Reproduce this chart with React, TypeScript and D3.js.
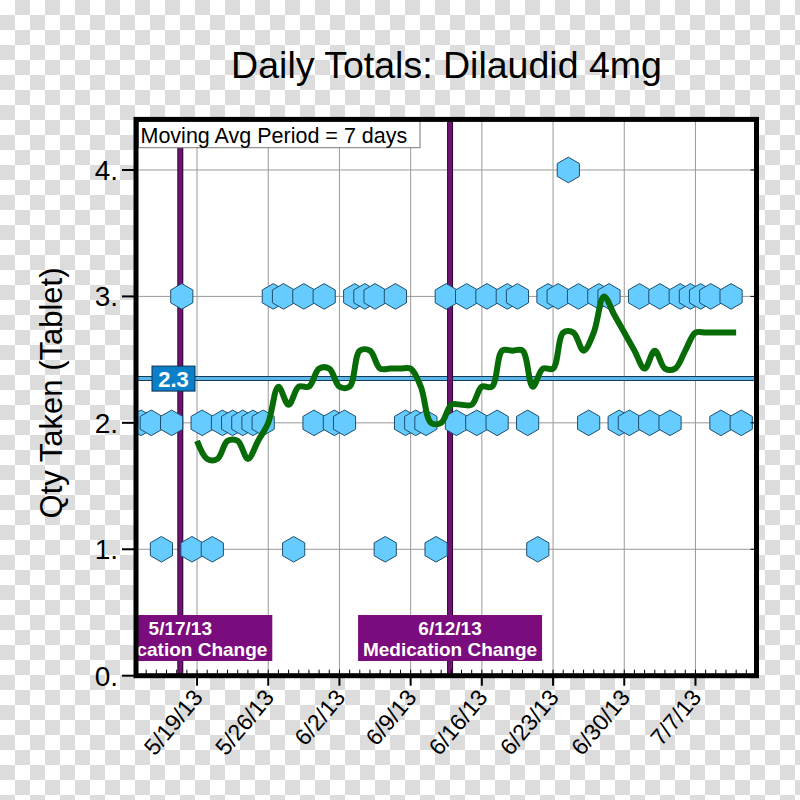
import React, { useEffect, useRef } from "react";
import * as d3 from "d3";

const chartTitle = "Daily Totals: Dilaudid 4mg";
const yTitle = "Qty Taken (Tablet)";
const legendText = "Moving Avg Period = 7 days";

// one total per day, starting 5/13/13
const firstDay = new Date(2013, 4, 13);
const qtyTaken = [
  2, 2, 1, 2, 3, 1, 2, // 5/13 - 5/19
  1, 2, 2, 2, 2, 2, 3, // 5/20 - 5/26
  3, 1, 3, 2, 3, 2, 2, // 5/27 - 6/2
  3, 3, 3, 1, 3, 2, 2, // 6/3 - 6/9
  2, 1, 3, 2, 3, 2, 3, // 6/10 - 6/16
  2, 3, 3, 2, 1, 3, 3, // 6/17 - 6/23
  4, 3, 2, 3, 3, 2, 2, // 6/24 - 6/30
  3, 2, 3, 2, 3, 3, 3, // 7/1 - 7/7
  3, 2, 3, 2, // 7/8 - 7/11
];

// 7 day moving average, starting 5/19/13
const avgStart = new Date(2013, 4, 19);
const movingAvg = [
  1.857, 1.714, 1.714, 1.857, 1.857, 1.714, 1.857,
  2.0, 2.286, 2.143, 2.286, 2.286, 2.429, 2.429,
  2.286, 2.286, 2.571, 2.571, 2.429, 2.429, 2.429,
  2.429, 2.286, 2.0, 2.0, 2.143, 2.143, 2.143,
  2.286, 2.286, 2.571, 2.571, 2.571, 2.286, 2.429,
  2.429, 2.714, 2.714, 2.571, 2.714, 3.0, 2.857,
  2.714, 2.571, 2.429, 2.571, 2.429, 2.429, 2.571,
  2.714, 2.714, 2.714, 2.714, 2.714,
];

const meanValue = 2.35;
const meanLabel = "2.3";

const changeDates = [new Date(2013, 4, 17, 8, 30), new Date(2013, 5, 12, 21, 0)];
const changeLabels = ["5/17/13", "6/12/13"];
const changeText = "Medication Change";

const xDomain = [new Date(2013, 4, 13), new Date(2013, 6, 13)];
const tickDates = [
  new Date(2013, 4, 19), new Date(2013, 4, 26), new Date(2013, 5, 2), new Date(2013, 5, 9),
  new Date(2013, 5, 16), new Date(2013, 5, 23), new Date(2013, 5, 30), new Date(2013, 6, 7),
];
const tickLabels = ["5/19/13", "5/26/13", "6/2/13", "6/9/13", "6/16/13", "6/23/13", "6/30/13", "7/7/13"];
const yTicks = [0, 1, 2, 3, 4];
const yTickLabels = ["0.", "1.", "2.", "3.", "4."];

export default function App() {
  const ref = useRef<SVGSVGElement>(null);

  useEffect(() => {
    const svg = d3.select(ref.current);
    svg.selectAll("*").remove();
    const font = "'Liberation Sans', Arial, sans-serif";

    const x = d3.scaleTime().domain(xDomain).range([136, 756.5]);
    const y = d3.scaleLinear().domain([0, 4.4]).range([675.7, 119.4]);
    const [x0, x1] = x.range();
    const [y0, y1] = y.range();

    const defs = svg.append("defs");
    const pat = defs.append("pattern")
      .attr("id", "checker")
      .attr("width", 30).attr("height", 30)
      .attr("patternUnits", "userSpaceOnUse");
    pat.append("rect").attr("width", 30).attr("height", 30).attr("fill", "#fff");
    pat.append("rect").attr("x", 15).attr("width", 15).attr("height", 15).attr("fill", "#dcdcdc");
    pat.append("rect").attr("y", 15).attr("width", 15).attr("height", 15).attr("fill", "#dcdcdc");
    defs.append("clipPath").attr("id", "plotClip")
      .append("rect")
      .attr("x", x0).attr("y", y1).attr("width", x1 - x0).attr("height", y0 - y1);

    svg.append("rect").attr("width", 800).attr("height", 800).attr("fill", "url(#checker)");
    svg.append("rect")
      .attr("x", x0).attr("y", y1).attr("width", x1 - x0).attr("height", y0 - y1)
      .attr("fill", "#fff");

    // title
    svg.append("text")
      .attr("x", 446.5).attr("y", 78)
      .attr("text-anchor", "middle")
      .attr("font-family", font).attr("font-size", 37.5)
      .text(chartTitle);

    // grid
    svg.append("g").selectAll("line").data(yTicks.slice(1)).enter().append("line")
      .attr("x1", x0).attr("x2", x1)
      .attr("y1", d => y(d)).attr("y2", d => y(d))
      .attr("stroke", "#999").attr("stroke-width", 1);
    svg.append("g").selectAll("line").data(tickDates).enter().append("line")
      .attr("x1", d => x(d)).attr("x2", d => x(d))
      .attr("y1", y1).attr("y2", y0)
      .attr("stroke", "#999").attr("stroke-width", 1);

    // mean line
    svg.append("line")
      .attr("x1", x0).attr("x2", x1).attr("y1", y(meanValue)).attr("y2", y(meanValue))
      .attr("stroke", "#123c5a").attr("stroke-width", 5);
    svg.append("line")
      .attr("x1", x0).attr("x2", x1).attr("y1", y(meanValue)).attr("y2", y(meanValue))
      .attr("stroke", "#5bb5e8").attr("stroke-width", 3);

    // medication change lines
    const chg = svg.append("g");
    chg.selectAll("line.o").data(changeDates).enter().append("line")
      .attr("x1", d => x(d)).attr("x2", d => x(d)).attr("y1", y1).attr("y2", y0)
      .attr("stroke", "#2e0530").attr("stroke-width", 6);
    chg.selectAll("line.i").data(changeDates).enter().append("line")
      .attr("x1", d => x(d)).attr("x2", d => x(d)).attr("y1", y1).attr("y2", y0)
      .attr("stroke", "#6d1470").attr("stroke-width", 4);

    // daily points
    const r = 12.8;
    const hex = d3.range(6).map(i => {
      const a = (Math.PI / 3) * i - Math.PI / 2;
      return [r * Math.cos(a), r * Math.sin(a)] as [number, number];
    });
    const hexPath = "M" + hex.map(p => p.join(",")).join("L") + "Z";
    svg.append("g").attr("clip-path", "url(#plotClip)")
      .selectAll("path").data(qtyTaken).enter().append("path")
      .attr("d", hexPath)
      .attr("transform", (d, i) => {
        const day = d3.timeHour.offset(d3.timeDay.offset(firstDay, i), 12);
        return "translate(" + x(day) + "," + y(d) + ")";
      })
      .attr("fill", "#66ccff")
      .attr("stroke", "#1d4f6e")
      .attr("stroke-width", 1);

    // moving average
    const line = d3.line<number>()
      .x((d, i) => x(d3.timeDay.offset(avgStart, i)))
      .y(d => y(d))
      .curve(d3.curveCatmullRom);
    svg.append("path")
      .attr("d", line(movingAvg))
      .attr("fill", "none")
      .attr("stroke", "#076b07")
      .attr("stroke-width", 6)
      .attr("stroke-linejoin", "round");

    // medication change boxes
    const boxes = svg.append("g").attr("clip-path", "url(#plotClip)")
      .selectAll("g").data(changeDates).enter().append("g")
      .attr("transform", d => "translate(" + x(d) + ",0)");
    boxes.append("rect")
      .attr("x", -92).attr("y", 615).attr("width", 184).attr("height", 46)
      .attr("fill", "#7b0c7e");
    boxes.append("text")
      .attr("y", 635).attr("text-anchor", "middle")
      .attr("font-family", font).attr("font-weight", "bold").attr("font-size", 19)
      .attr("fill", "#fff")
      .text((d, i) => changeLabels[i]);
    boxes.append("text")
      .attr("y", 656).attr("text-anchor", "middle")
      .attr("font-family", font).attr("font-weight", "bold").attr("font-size", 19)
      .attr("fill", "#fff")
      .text(changeText);

    // legend
    svg.append("rect")
      .attr("x", 138.5).attr("y", y1).attr("width", 281.5).attr("height", 147.7 - y1)
      .attr("fill", "#fff").attr("stroke", "#777").attr("stroke-width", 1);
    svg.append("text")
      .attr("x", 140.5).attr("y", 142.5)
      .attr("font-family", font).attr("font-size", 21.5)
      .text(legendText);

    // mean label
    const ym = y(meanValue);
    svg.append("rect")
      .attr("x", x0 + 16).attr("y", ym - 12.5).attr("width", 43).attr("height", 25)
      .attr("fill", "#0b80c8").attr("stroke", "#0d3050").attr("stroke-width", 1);
    svg.append("text")
      .attr("x", x0 + 37.5).attr("y", ym + 8)
      .attr("text-anchor", "middle")
      .attr("font-family", font).attr("font-weight", "bold").attr("font-size", 22)
      .attr("fill", "#fff")
      .text(meanLabel);

    // ticks
    svg.append("g").selectAll("line").data(d3.timeDay.range(d3.timeDay.offset(xDomain[0], 1), xDomain[1]))
      .enter().append("line")
      .attr("x1", d => x(d)).attr("x2", d => x(d))
      .attr("y1", y0 - 6).attr("y2", y0)
      .attr("stroke", "#000").attr("stroke-width", 1);
    svg.append("g").selectAll("line").data(tickDates).enter().append("line")
      .attr("x1", d => x(d)).attr("x2", d => x(d))
      .attr("y1", y0).attr("y2", y0 + 10)
      .attr("stroke", "#000").attr("stroke-width", 2);
    svg.append("g").selectAll("line").data(yTicks).enter().append("line")
      .attr("x1", x0 - 14).attr("x2", x0)
      .attr("y1", d => y(d)).attr("y2", d => y(d))
      .attr("stroke", "#000").attr("stroke-width", 2);
    svg.append("g").selectAll("line").data(yTicks).enter().append("line")
      .attr("x1", x1 - 6).attr("x2", x1)
      .attr("y1", d => y(d)).attr("y2", d => y(d))
      .attr("stroke", "#000").attr("stroke-width", 1);

    // frame
    svg.append("rect")
      .attr("x", x0).attr("y", y1).attr("width", x1 - x0).attr("height", y0 - y1)
      .attr("fill", "none").attr("stroke", "#000").attr("stroke-width", 5);

    // tick labels
    svg.append("g").selectAll("text").data(yTicks).enter().append("text")
      .attr("x", 118).attr("y", d => y(d)).attr("dy", "0.36em")
      .attr("text-anchor", "end")
      .attr("font-family", font).attr("font-size", 28)
      .text((d, i) => yTickLabels[i]);
    svg.append("g").selectAll("text").data(tickDates).enter().append("text")
      .attr("transform", d => "translate(" + (x(d) + 7) + "," + 698 + ") rotate(-50)")
      .attr("text-anchor", "end")
      .attr("font-family", font).attr("font-size", 23)
      .text((d, i) => tickLabels[i]);

    // y title
    svg.append("text")
      .attr("transform", "translate(62,393) rotate(-90)")
      .attr("text-anchor", "middle")
      .attr("font-family", font).attr("font-size", 31)
      .text(yTitle);
  }, []);

  return (
    <svg ref={ref} width={800} height={800}
      style={{ position: "absolute", left: 0, top: 0, display: "block" }} />
  );
}
